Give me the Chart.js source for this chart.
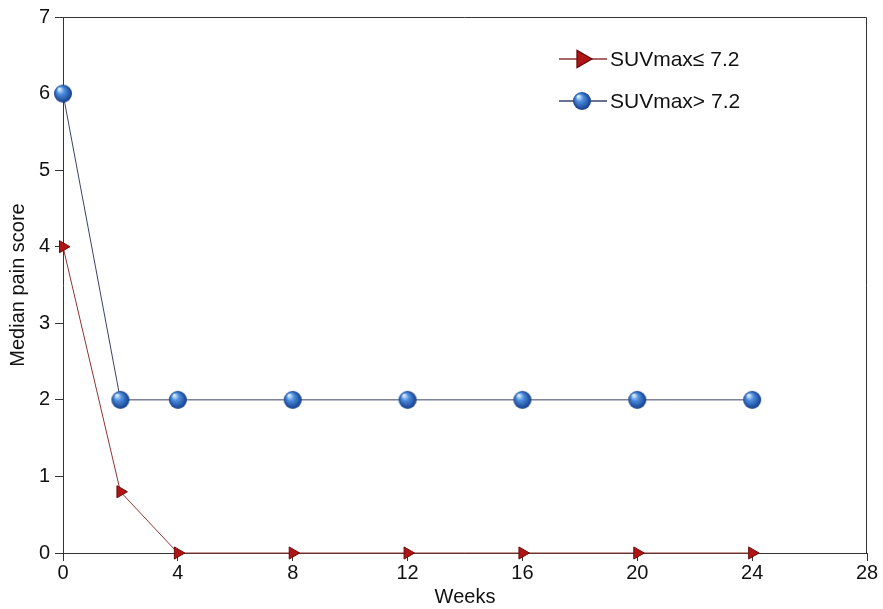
<!DOCTYPE html>
<html><head><meta charset="utf-8">
<script src="https://cdn.jsdelivr.net/npm/chart.js@4/dist/chart.umd.min.js"></script>
<style>html,body{margin:0;padding:0;background:#fff}#wrap{width:883px;height:609px}</style>
</head><body><div id="wrap"><canvas id="c" width="883" height="609"></canvas></div>
<script>
const weeks = [0, 2, 4, 8, 12, 16, 20, 24];
const lowSUV = [4, 0.8, 0, 0, 0, 0, 0, 0];
const highSUV = [6, 2, 2, 2, 2, 2, 2, 2];
const seriesLabels = ['SUVmax\u2264 7.2', 'SUVmax> 7.2'];
const xTicks = [0, 4, 8, 12, 16, 20, 24, 28];
const yTicks = [0, 1, 2, 3, 4, 5, 6, 7];

function sphere(r){
  const c = document.createElement('canvas');
  c.width = c.height = r*2+2;
  const g = c.getContext('2d');
  const grad = g.createRadialGradient(r*0.7, r*0.6, r*0.1, r+1, r+1, r);
  grad.addColorStop(0, '#d4eaff');
  grad.addColorStop(0.35, '#4f8fe0');
  grad.addColorStop(1, '#123c8a');
  g.fillStyle = grad;
  g.beginPath(); g.arc(r+1, r+1, r, 0, Math.PI*2); g.fill();
  return c;
}
const ball = sphere(9);

const FONT = 'Liberation Sans, Arial, sans-serif';

const frame = {
  id: 'frame',
  afterDatasetsDraw(chart){
    const {ctx, chartArea:a} = chart;
    ctx.save();
    ctx.strokeStyle = '#333'; ctx.lineWidth = 1;
    ctx.beginPath();
    ctx.moveTo(a.left, a.top+0.5); ctx.lineTo(a.right-0.5, a.top+0.5); ctx.lineTo(a.right-0.5, a.bottom);
    ctx.stroke();
    const ys = [59, 101];
    chart.data.datasets.forEach((ds, i) => {
      const y = ys[i];
      ctx.strokeStyle = ds.borderColor; ctx.lineWidth = 1.3;
      ctx.beginPath(); ctx.moveTo(559, y); ctx.lineTo(607, y); ctx.stroke();
      ctx.fillStyle = ds.pointBackgroundColor || '#b01515';
      ctx.strokeStyle = ds.pointBorderColor || '#6e0a0a';
      Chart.helpers.drawPoint(ctx, {pointStyle: ds.pointStyle, radius: i === 0 ? 10 : 9, rotation: ds.rotation || 0, borderWidth: 1}, 582, y);
      ctx.fillStyle = '#111'; ctx.font = '21px ' + FONT; ctx.textBaseline = 'middle'; ctx.textAlign = 'left';
      ctx.fillText(ds.label, 610, y+1);
    });
    ctx.restore();
  }
};

new Chart(document.getElementById('c'), {
  type: 'line',
  data: {
    datasets: [
      {
        label: seriesLabels[0],
        data: weeks.map((w,i)=>({x:w, y:lowSUV[i]})),
        borderColor: '#8f3434', borderWidth: 1,
        pointStyle: 'triangle', rotation: 90, pointRadius: 7,
        pointBackgroundColor: '#b01515', pointBorderColor: '#6e0a0a', pointBorderWidth: 1,
        tension: 0, clip: false
      },
      {
        label: seriesLabels[1],
        data: weeks.map((w,i)=>({x:w, y:highSUV[i]})),
        borderColor: '#3a4266', borderWidth: 1,
        pointStyle: ball, pointRadius: 9,
        tension: 0, clip: false
      }
    ]
  },
  options: {
    responsive: false, animation: false,
    layout: {padding: {left: 0, top: 16, right: 16, bottom: 0}},
    plugins: {legend: {display: false}, tooltip: {enabled: false}},
    scales: {
      x: {
        type: 'linear', min: 0, max: 28,
        afterBuildTicks(s){ s.ticks = xTicks.map(v=>({value:v})); },
        afterFit(s){ s.height = 56; },
        ticks: {color: '#111', font: {family: FONT, size: 20}, padding: 0, maxRotation: 0},
        grid: {drawOnChartArea: false, drawTicks: true, tickLength: 8, color: '#333'},
        border: {display: true, color: '#333', width: 1},
        title: {display: true, text: 'Weeks', color: '#111', font: {family: FONT, size: 20}, padding: {top: 0, bottom: 0}}
      },
      y: {
        type: 'linear', min: 0, max: 7,
        afterBuildTicks(s){ s.ticks = yTicks.map(v=>({value:v})); },
        afterFit(s){ s.width = 63; },
        ticks: {color: '#111', font: {family: FONT, size: 20}, padding: 5},
        grid: {drawOnChartArea: false, drawTicks: true, tickLength: 8, color: '#333'},
        border: {display: true, color: '#333', width: 1},
        title: {display: true, text: 'Median pain score', color: '#111', font: {family: FONT, size: 20}, padding: {top: 6, bottom: 0}}
      }
    }
  },
  plugins: [frame]
});
</script></body></html>
